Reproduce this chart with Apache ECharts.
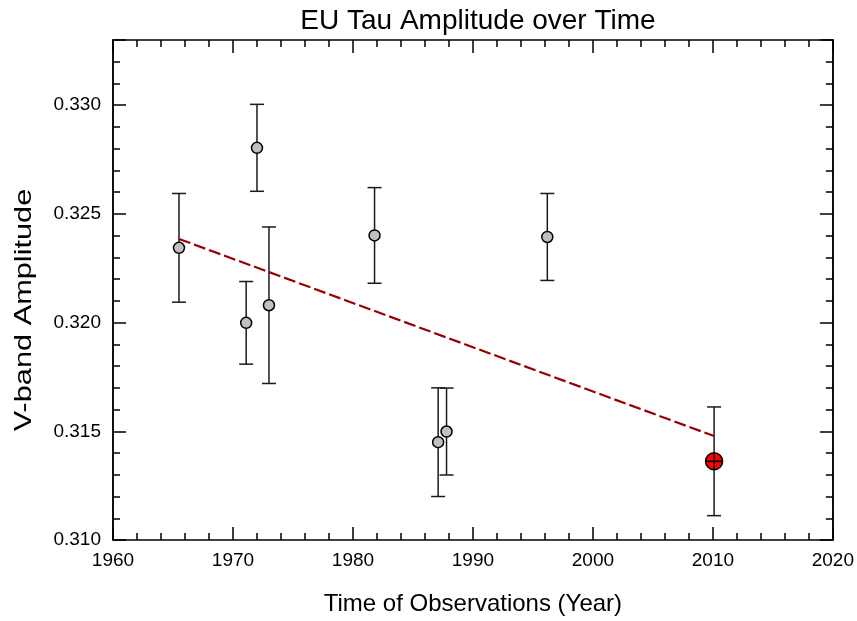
<!DOCTYPE html>
<html>
<head>
<meta charset="utf-8">
<script src="https://cdn.jsdelivr.net/npm/echarts@6/dist/echarts.min.js"></script>
<style>html,body{margin:0;padding:0;background:#fff}#c{width:857px;height:621px}</style>
</head>
<body>
<div id="c"></div>
<script>
// Observations (year, V-band amplitude, error)
const years = [1965.5, 1971.1, 1972.0, 1973.0, 1981.8, 1987.1, 1987.8, 1996.2];
const amps  = [0.32344, 0.31999, 0.32804, 0.32080, 0.32401, 0.31450, 0.31499, 0.32394];
const errs  = [0.0025, 0.0019, 0.0020, 0.0036, 0.0022, 0.0025, 0.0020, 0.0020];
// Latest observation (highlighted)
const newYear = [2010.1];
const newAmp  = [0.31362];
const newErr  = [0.0025];
// Linear trend endpoints
const trendYears = [1965.5, 2010.1];
const trendAmps  = [0.32385, 0.31478];

const FONT = 'Liberation Sans, Arial, sans-serif';
const obs = years.map((y, i) => [y, amps[i], errs[i]]);
const latest = newYear.map((y, i) => [y, newAmp[i], newErr[i]]);
const trend = trendYears.map((y, i) => [y, trendAmps[i]]);

function errBar(params, api) {
  const x = api.value(0), y = api.value(1), e = api.value(2);
  const hi = api.coord([x, y + e]), lo = api.coord([x, y - e]);
  const hw = 7;
  const st = {stroke: '#1a1a1a', lineWidth: 1.5};
  return {type: 'group', children: [
    {type: 'line', shape: {x1: hi[0], y1: hi[1], x2: lo[0], y2: lo[1]}, style: st},
    {type: 'line', shape: {x1: hi[0] - hw, y1: hi[1], x2: hi[0] + hw, y2: hi[1]}, style: st},
    {type: 'line', shape: {x1: lo[0] - hw, y1: lo[1], x2: lo[0] + hw, y2: lo[1]}, style: st}
  ]};
}
function cross(params, api) {
  const p = api.coord([api.value(0), api.value(1)]);
  const r = 8;
  const st = {stroke: '#000', lineWidth: 1.5};
  return {type: 'group', children: [
    {type: 'line', shape: {x1: p[0] - r, y1: p[1], x2: p[0] + r, y2: p[1]}, style: st},
    {type: 'line', shape: {x1: p[0], y1: p[1] - r, x2: p[0], y2: p[1] + r}, style: st}
  ]};
}

const black = {color: '#000', width: 1.5};
function xAx(pos, labels) {
  return {
    type: 'value', position: pos, min: 1960, max: 2020, interval: 10,
    axisLine: {show: true, onZero: false, lineStyle: black},
    axisTick: {show: true, inside: true, length: 13, lineStyle: black},
    minorTick: {show: true, splitNumber: 5, length: 7, lineStyle: black},
    splitLine: {show: false}, minorSplitLine: {show: false},
    axisLabel: {show: labels, color: '#000', fontSize: 19, fontFamily: FONT, margin: 11,
      formatter: v => String(Math.round(v))},
    name: labels ? 'Time of Observations (Year)' : '',
    nameLocation: 'middle', nameGap: 52,
    nameTextStyle: {color: '#000', fontSize: 24, fontFamily: FONT}
  };
}
function yAx(pos, major, labels) {
  return {
    type: 'value', position: pos, min: 0.310, max: 0.333,
    interval: major ? 0.005 : 0.001,
    axisLine: {show: true, onZero: false, lineStyle: black},
    axisTick: {show: true, inside: true, length: major ? 13 : 7, lineStyle: black},
    splitLine: {show: false},
    axisLabel: {show: labels, color: '#000', fontSize: 19, fontFamily: FONT, margin: 12,
      formatter: v => (v > 0.3305 ? '' : v.toFixed(3))}
  };
}

const chart = echarts.init(document.getElementById('c'), null, {renderer: 'canvas'});
chart.setOption({
  animation: false,
  backgroundColor: '#fff',
  title: {text: 'EU Tau Amplitude over Time', left: 473, textAlign: 'center', top: 2,
    textStyle: {color: '#000', fontSize: 28, fontWeight: 'normal', fontFamily: FONT}},
  grid: {left: 113, right: 24, top: 40, bottom: 78, containLabel: false},
  graphic: [{
    type: 'text', x: 24, y: 310, rotation: Math.PI / 2, scaleX: 1.28,
    style: {text: 'V-band Amplitude', fill: '#000', fontSize: 24, fontFamily: FONT,
      align: 'center', verticalAlign: 'middle'}
  }],
  xAxis: [xAx('bottom', true), xAx('top', false)],
  yAxis: [yAx('left', true, true), yAx('left', false, false), yAx('right', true, false), yAx('right', false, false)],
  series: [
    {type: 'custom', renderItem: errBar, data: obs, encode: {x: 0, y: 1}, z: 2},
    {type: 'custom', renderItem: errBar, data: latest, encode: {x: 0, y: 1}, z: 2},
    {type: 'line', data: trend, symbol: 'none', z: 3,
      lineStyle: {color: '#990000', width: 2.2, type: [12, 4]}},
    {type: 'scatter', data: obs, symbol: 'circle', symbolSize: 11, z: 4,
      itemStyle: {color: '#c0c0c0', borderColor: '#000', borderWidth: 1.5, opacity: 1}},
    {type: 'scatter', data: latest, symbol: 'circle', symbolSize: 17, z: 4,
      itemStyle: {color: '#ff0000', borderColor: '#000', borderWidth: 1.5, opacity: 1}},
    {type: 'custom', renderItem: cross, data: latest, encode: {x: 0, y: 1}, z: 5}
  ]
});
</script>
</body>
</html>
